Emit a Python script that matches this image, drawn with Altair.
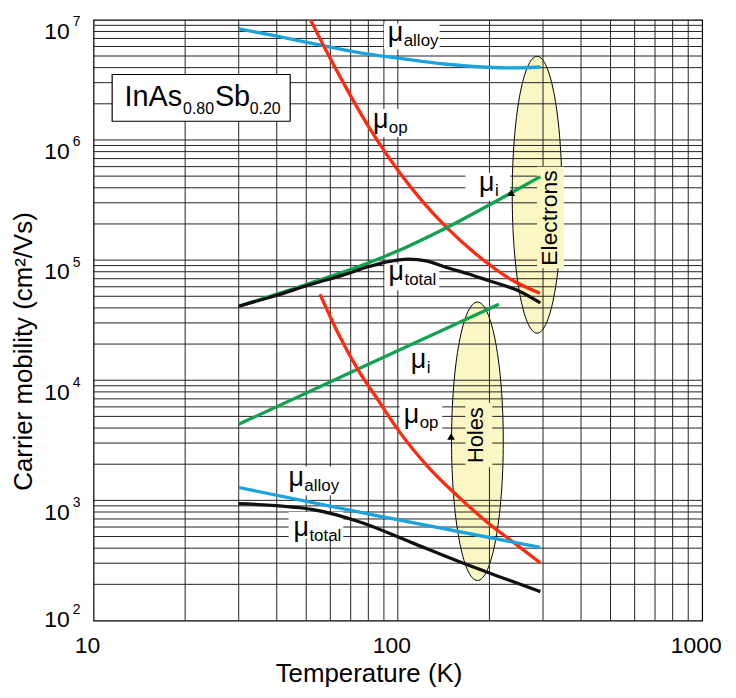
import altair as alt
import pandas as pd

FONT = "Liberation Sans"

# ---------------- data ----------------
# Electrons
el_alloy_T = [30, 40.5, 54.8, 79.8, 100, 142, 197, 234, 294]
el_alloy_mu = [8.42e6, 7.28e6, 6.21e6, 5.19e6, 4.81e6, 4.29e6, 4.03e6, 3.98e6, 4.05e6]

el_op_T = [51.6, 57.7, 65.1, 75.7, 86.0, 100, 118.9, 145.7, 182.6, 234.0, 293.3]
el_op_mu = [1.006e7, 5.75e6, 3.24e6, 1.642e6, 9.72e5, 5.59e5, 3.20e5, 1.834e5, 1.096e5, 6.96e4, 5.29e4]

el_i_T = [30, 50.8, 75.9, 97.5, 145.6, 234.5, 294]
el_i_mu = [4.13e4, 6.35e4, 9.0e4, 1.16e5, 1.88e5, 3.60e5, 4.95e5]

el_tot_T = [30, 40, 52, 66, 80, 95, 108, 125, 142, 170, 197, 247, 294]
el_tot_mu = [4.13e4, 5.1e4, 6.3e4, 7.5e4, 8.8e4, 9.8e4, 1.02e5, 9.8e4, 8.8e4, 7.7e4, 6.8e4, 5.6e4, 4.4e4]

# Holes
h_i_T = [30, 74, 214.8]
h_i_mu = [4.3e3, 1.24e4, 4.3e4]

h_op_T = [55.5, 63.7, 74, 86, 100, 125, 157, 197, 240, 294]
h_op_mu = [5.2e4, 2.45e4, 1.22e4, 6.88e3, 3.88e3, 1.93e3, 1.09e3, 655, 447, 301]

h_alloy_T = [30, 86, 294]
h_alloy_mu = [1.28e3, 743, 406]

h_tot_T = [30, 52, 75.9, 110.6, 161, 222.6, 294]
h_tot_mu = [940, 843, 655, 447, 305, 225, 174]

# grid / tick values
x_grid = [20, 30, 40, 50, 60, 70, 80, 90, 100,
          200, 300, 400, 500, 600, 700, 800, 900]
y_grid = [200, 300, 400, 500, 600, 700, 800, 900, 1000,
          2000, 3000, 4000, 5000, 6000, 7000, 8000, 9000, 10000,
          20000, 30000, 40000, 50000, 60000, 70000, 80000, 90000, 100000,
          200000, 300000, 400000, 500000, 600000, 700000, 800000, 900000, 1000000,
          2000000, 3000000, 4000000, 5000000, 6000000, 7000000, 8000000, 9000000]
x_tick_vals = [10, 100, 1000]
x_tick_text = ["10", "100", "1000"]
y_tick_vals = [1000, 10000, 100000, 1000000, 10000000]
y_tick_exp = ["3", "4", "5", "6", "7"]
y_bottom_val = [100]
y_bottom_exp = ["2"]

# curve labels (anchor of the mu glyph)
lab_T = [92.7, 82.8, 184.9, 93.2, 110.3, 104.6, 43.7, 45.4]
lab_mu = [6.61e6, 1.264e6, 3.78e5, 6.79e4, 1.26e4, 4.41e3, 1.314e3, 509]
lab_sub = ["alloy", "op", "i", "total", "i", "op", "alloy", "total"]

# white label-background boxes (centres)
box_T = [111.1, 94.8, 197.6, 111.2, 119.1, 52.6, 53.8]
box_mu = [7.27e6, 1.384e6, 4.08e5, 7.26e4, 4.88e3, 1.453e3, 618.8]

# ellipses, group texts, arrows
ell_T = [286.8, 182.6]
ell_mu = [3.50e5, 3.105e3]
grp_T = [316.0, 181.0]
grp_mu = [2.24e5, 3.49e3]
grp_text = ["Electrons", "Holes"]
arrow_T = [235.8, 149.6]
arrow_mu = [3.64e5, 3.40e3]

# compound label
title_T = 12.63
title_mu = 1.913e6
title_box_T = 22.58
title_box_mu = 2.24e6

# ---------------- styles ----------------
C_ALLOY = "#1CA3DC"
C_OP = "#FF2A10"
C_I = "#12A150"
C_TOT = "#111111"
YELLOW = "#FAF7C4"
GRID = "#222222"
LW = 3.3

W, H = 612, 604

x_scale = alt.Scale(type="log", domain=[10, 1000], nice=False)
y_scale = alt.Scale(type="log", domain=[100, 10000000], nice=False)

x_axis = alt.Axis(title="Temperature (K)", labels=False, ticks=False, domain=False, grid=False,
                  titleFont=FONT, titleFontSize=26, titleFontWeight="normal", titleColor="black",
                  titleX=276.5, titleY=61.5, titleBaseline="alphabetic", titleAlign="center")
y_axis = alt.Axis(title="Carrier mobility (cm²/Vs)", labels=False, ticks=False, domain=False, grid=False,
                  titleFont=FONT, titleFontSize=26, titleFontWeight="normal", titleColor="black",
                  titleAngle=270, titleX=-62, titleY=333, titleBaseline="alphabetic", titleAlign="center")


def X():
    return alt.X("T:Q", scale=x_scale, axis=x_axis)


def Y():
    return alt.Y("mu:Q", scale=y_scale, axis=y_axis)


def pts(T, mu):
    return pd.DataFrame({"T": T, "mu": mu})


def fmt(v):
    return f"{v:.4f}"


def ellipse_shape(rx, ry):
    L = max(rx, ry)
    a, b = rx / L, ry / L
    k = 0.5523
    p = (f"M0,{fmt(-b)} C{fmt(a*k)},{fmt(-b)} {fmt(a)},{fmt(-b*k)} {fmt(a)},0 "
         f"C{fmt(a)},{fmt(b*k)} {fmt(a*k)},{fmt(b)} 0,{fmt(b)} "
         f"C{fmt(-a*k)},{fmt(b)} {fmt(-a)},{fmt(b*k)} {fmt(-a)},0 "
         f"C{fmt(-a)},{fmt(-b*k)} {fmt(-a*k)},{fmt(-b)} 0,{fmt(-b)} Z")
    return p, (2 * L) ** 2


def rect_shape(w, h):
    L = max(w, h) / 2
    a, b = w / 2 / L, h / 2 / L
    p = f"M{fmt(-a)},{fmt(-b)} L{fmt(a)},{fmt(-b)} L{fmt(a)},{fmt(b)} L{fmt(-a)},{fmt(b)} Z"
    return p, (2 * L) ** 2


def ellipse_layer(T, mu, rx, ry):
    p, s = ellipse_shape(rx, ry)
    return alt.Chart(pts([T], [mu])).mark_point(
        shape=p, size=s, filled=True, fill=YELLOW, stroke="black", strokeWidth=1, opacity=1
    ).encode(x=X(), y=Y())


def box_layer(T, mu, w, h, fill="white", stroke=None, sw=1.2):
    p, s = rect_shape(w, h)
    props = dict(shape=p, size=s, filled=True, fill=fill, opacity=1)
    if stroke:
        props.update(stroke=stroke, strokeWidth=sw)
    else:
        props.update(strokeWidth=0)
    return alt.Chart(pts([T], [mu])).mark_point(**props).encode(x=X(), y=Y())


def text_layer(T, mu, txt, size, dx=0, dy=0, angle=None, align="left", baseline="alphabetic"):
    props = dict(text=txt, font=FONT, fontSize=size, dx=dx, dy=dy, align=align,
                 baseline=baseline, color="black")
    if angle is not None:
        props["angle"] = angle
    return alt.Chart(pts([T], [mu])).mark_text(**props).encode(x=X(), y=Y())


def curve(T, mu, color):
    return alt.Chart(pts(T, mu)).mark_line(
        color=color, strokeWidth=LW, interpolate="monotone", clip=True
    ).encode(x=X(), y=Y())


layers = []

# ellipses (under the grid)
layers.append(ellipse_layer(ell_T[0], ell_mu[0], 25, 139.2))
layers.append(ellipse_layer(ell_T[1], ell_mu[1], 26, 140))

# grid
layers.append(alt.Chart(pd.DataFrame({"T": x_grid})).mark_rule(color=GRID, strokeWidth=1)
              .encode(x=X()))
layers.append(alt.Chart(pd.DataFrame({"mu": y_grid})).mark_rule(color=GRID, strokeWidth=1)
              .encode(y=Y()))

# label background boxes
box_sizes = [(56, 26), (42, 28), (45, 28), (55, 27), (43, 28), (57, 29), (55, 27)]
for t, m, (w, h) in zip(box_T, box_mu, box_sizes):
    layers.append(box_layer(t, m, w, h))
layers.append(box_layer(184.6, 3.50e3, 27, 65, fill=YELLOW))
layers.append(box_layer(317.4, 2.26e5, 27, 102, fill=YELLOW))
layers.append(box_layer(title_box_T, title_box_mu, 179, 47, fill="white", stroke="black", sw=1.2))

# curves
layers += [
    curve(el_alloy_T, el_alloy_mu, C_ALLOY),
    curve(el_op_T, el_op_mu, C_OP),
    curve(el_i_T, el_i_mu, C_I),
    curve(el_tot_T, el_tot_mu, C_TOT),
    curve(h_i_T, h_i_mu, C_I),
    curve(h_op_T, h_op_mu, C_OP),
    curve(h_alloy_T, h_alloy_mu, C_ALLOY),
    curve(h_tot_T, h_tot_mu, C_TOT),
]

# arrows
layers.append(alt.Chart(pts(arrow_T, arrow_mu)).mark_point(
    shape="triangle-up", filled=True, color="black", size=60, opacity=1, strokeWidth=0
).encode(x=X(), y=Y()))

# curve labels
for t, m, sub in zip(lab_T, lab_mu, lab_sub):
    layers.append(text_layer(t, m, "μ", 27))
    layers.append(text_layer(t, m, sub, 17, dx=16, dy=5))

# group texts
layers.append(text_layer(grp_T[0], grp_mu[0], grp_text[0], 23, angle=270, align="center", baseline="middle"))
layers.append(text_layer(grp_T[1], grp_mu[1], grp_text[1], 22, angle=270, align="center", baseline="middle"))

# compound label
layers.append(text_layer(title_T, title_mu, "InAs", 29))
layers.append(text_layer(title_T, title_mu, "0.80", 16, dx=59, dy=8))
layers.append(text_layer(title_T, title_mu, "Sb", 29, dx=91))
layers.append(text_layer(title_T, title_mu, "0.20", 16, dx=126, dy=8))

# tick labels
layers.append(alt.Chart(pd.DataFrame({"T": x_tick_vals, "lab": x_tick_text})).mark_text(
    font=FONT, fontSize=23, align="center", baseline="alphabetic", dx=-6, color="black"
).encode(x=X(), y=alt.value(H + 33), text="lab:N"))

layers.append(alt.Chart(pd.DataFrame({"mu": y_tick_vals, "e": y_tick_exp})).mark_text(
    text="10", font=FONT, fontSize=23, align="right", baseline="alphabetic", dy=19.5, color="black"
).encode(y=Y(), x=alt.value(-24)))
layers.append(alt.Chart(pd.DataFrame({"mu": y_tick_vals, "e": y_tick_exp})).mark_text(
    font=FONT, fontSize=14, align="left", baseline="alphabetic", dy=6.5, color="black"
).encode(y=Y(), x=alt.value(-21), text="e:N"))
layers.append(alt.Chart(pd.DataFrame({"mu": y_bottom_val, "e": y_bottom_exp})).mark_text(
    text="10", font=FONT, fontSize=23, align="right", baseline="alphabetic", dy=6.5, color="black"
).encode(y=Y(), x=alt.value(-24)))
layers.append(alt.Chart(pd.DataFrame({"mu": y_bottom_val, "e": y_bottom_exp})).mark_text(
    font=FONT, fontSize=14, align="left", baseline="alphabetic", dy=-6.5, color="black"
).encode(y=Y(), x=alt.value(-21), text="e:N"))

chart = alt.layer(*layers).properties(
    width=W, height=H,
    autosize=alt.AutoSizeParams(type="none"),
    padding={"left": 86, "top": 10, "right": 26, "bottom": 72},
    background="white",
).configure_view(stroke="black", strokeWidth=1.2)

chart.save("out.html", embed_options={"renderer": "svg", "actions": False})
